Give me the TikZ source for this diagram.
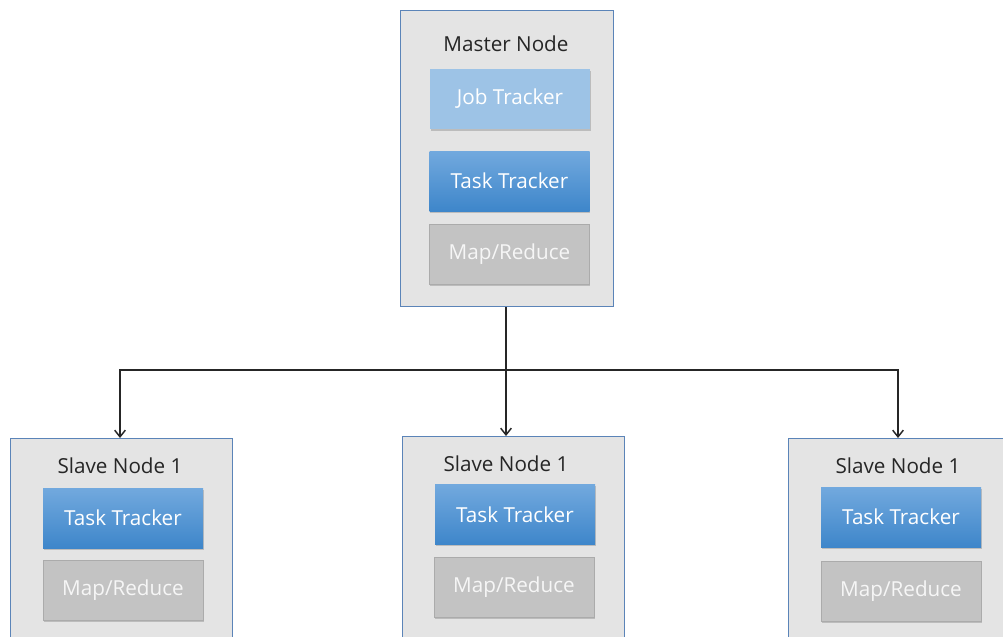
\documentclass[tikz,border=0pt]{standalone}
\usepackage{fontspec}
\setmainfont{Open Sans}
\usetikzlibrary{arrows.meta,shadows}
\definecolor{frameblue}{HTML}{5B84B8}
\definecolor{panelgray}{HTML}{E4E4E4}
\definecolor{jobblue}{HTML}{9DC3E6}
\definecolor{tasktop}{HTML}{72A9DE}
\definecolor{taskbot}{HTML}{3E86CA}
\definecolor{mapgray}{HTML}{C3C3C3}
\definecolor{mapborder}{HTML}{ABABAB}
\tikzset{
  x=0.75pt, y=-0.75pt,
  panel/.style={draw=frameblue, line width=1.1pt, fill=panelgray},
  title/.style={font=\fontsize{15.5}{18}\selectfont, text=black!85},
  unit/.style={minimum width=120pt, minimum height=45pt, inner sep=0pt,
    font=\fontsize{15.5}{18}\selectfont, text=white,
    drop shadow={shadow xshift=0.6pt, shadow yshift=-1.4pt, opacity=0.4}},
  jobunit/.style={unit, fill=jobblue},
  taskunit/.style={unit, top color=tasktop, bottom color=taskbot},
  mapunit/.style={unit, fill=mapgray, draw=mapborder, line width=0.7pt, text=white!93!gray},
  link/.style={draw=black!85, line width=1.1pt},
  tip/.style={-{Straight Barb[length=5pt,width=8pt,line width=1.1pt]}}
}
\begin{document}
\begin{tikzpicture}
\useasboundingbox (0,0) rectangle (1003,636);
\clip (0,0) rectangle (1003,636);
\fill[white] (0,0) rectangle (1003,636);

% master node
\node[panel, minimum width=159.75pt, minimum height=222pt, anchor=north west, inner sep=0pt] (master) at (400,10) {};
\node[title] (mtitle) at (506,44) {Master Node};
\node[jobunit] (job) at (510,99) {Job Tracker};
\node[taskunit] (mtask) at (509.5,181) {Task Tracker};
\node[mapunit] (mmap) at (509.5,254.5) {Map/Reduce};

% slave nodes
\node[panel, minimum width=166.5pt, minimum height=160pt, anchor=north west, inner sep=0pt] (s1) at (10,438) {};
\node[title] (s1title) at (120,466) {Slave Node 1};
\node[taskunit] (s1task) at (123,518) {Task Tracker};
\node[mapunit] (s1map) at (123,590.5) {Map/Reduce};

\node[panel, minimum width=166.5pt, minimum height=160pt, anchor=north west, inner sep=0pt] (s2) at (402,436) {};
\node[title] (s2title) at (506,464) {Slave Node 1};
\node[taskunit] (s2task) at (515,514.5) {Task Tracker};
\node[mapunit] (s2map) at (514,587) {Map/Reduce};

\node[panel, minimum width=166.5pt, minimum height=160pt, anchor=north west, inner sep=0pt] (s3) at (788,438) {};
\node[title] (s3title) at (898,466) {Slave Node 1};
\node[taskunit] (s3task) at (901,517) {Task Tracker};
\node[mapunit] (s3map) at (901,591) {Map/Reduce};

% connectors
\coordinate (bus) at (506,370);
\draw[link, line width=1.6pt, tip] (master.south -| bus) -- (s2.north -| bus);
\draw[link, tip] (bus) -| (s1.north -| 120,0);
\draw[link, tip] (bus) -| (s3.north -| 898,0);
\end{tikzpicture}
\end{document}
